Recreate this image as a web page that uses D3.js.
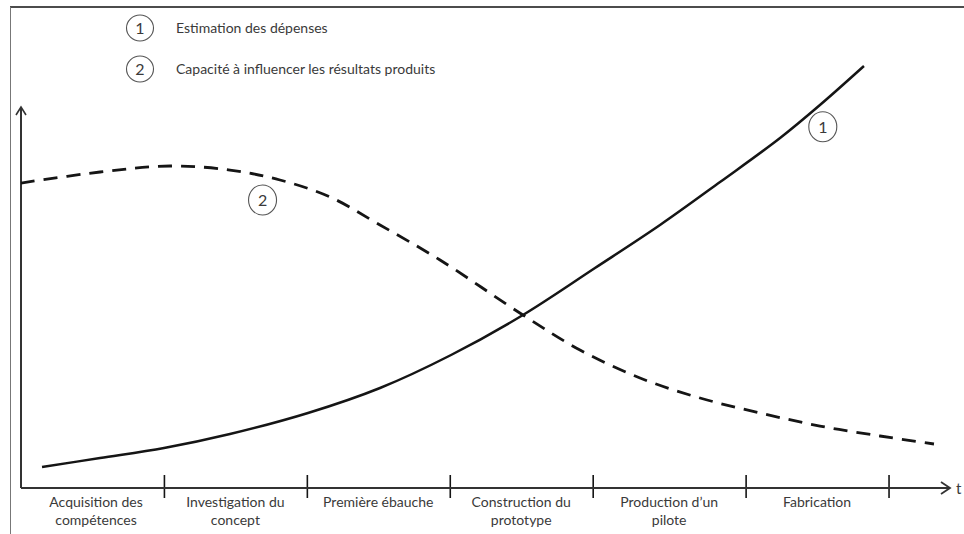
<!DOCTYPE html>
<html>
<head>
<meta charset="utf-8">
<script src="https://cdn.jsdelivr.net/npm/d3@7/dist/d3.min.js"></script>
<style>
  html, body { margin: 0; padding: 0; background: #fff; }
  svg { display: block; }
  text { font-family: Lato, "Open Sans", sans-serif; fill: #3a3a3a; }
</style>
</head>
<body>
<svg id="chart" width="964" height="534"></svg>
<script>
// ---- Data (x in phase units, y in relative units 0..100 of the vertical axis) ----
const phases = [
  ["Acquisition des", "compétences"],
  ["Investigation du", "concept"],
  ["Première ébauche"],
  ["Construction du", "prototype"],
  ["Production d\u2019un", "pilote"],
  ["Fabrication"]
];
const phaseBounds = [0.05, 1, 2, 3, 4, 5.07, 6.07];   // phase limits
const tickValues = [1, 2, 3, 4, 5.07, 6.07];

const series1Name = "Estimation des dépenses";
const series1X = [0.147, 0.553, 1.001, 1.462, 2.008, 2.512, 3.009, 3.512, 4.016, 4.471, 4.891, 5.311, 5.590, 5.898];
const series1Y = [5.51, 7.87, 10.50, 14.17, 19.69, 26.25, 34.91, 45.41, 57.74, 69.03, 80.31, 91.86, 100.52, 110.76];

const series2Name = "Capacité à influencer les résultats produits";
const series2X = [0, 0.553, 1.043, 1.462, 1.812, 2.162, 2.512, 2.932, 3.512, 3.911, 4.331, 4.751, 5.171, 5.590, 6.010, 6.388];
const series2Y = [80.05, 82.94, 84.51, 83.46, 80.84, 76.38, 69.03, 59.84, 45.41, 36.22, 28.87, 23.62, 19.69, 16.27, 13.65, 11.55];

const markerLabels = ["1", "2"];
const markerX = [5.61, 1.69];
const markerY = [94.8, 75.6];

// ---- Layout ----
const svg = d3.select("#chart");
const x = d3.scaleLinear().domain([0, 6.5]).range([21, 950]);
const y = d3.scaleLinear().domain([0, 100]).range([488, 107]);
const ink = "#151515";

// frame lines
svg.append("line").attr("x1", 10).attr("x2", 964).attr("y1", 7).attr("y2", 7)
  .attr("stroke", "#111").attr("stroke-width", 1.5);
svg.append("line").attr("x1", 10.5).attr("x2", 10.5).attr("y1", 7).attr("y2", 534)
  .attr("stroke", "#777").attr("stroke-width", 1);

// legend
const legend = svg.append("g");
[series1Name, series2Name].forEach((name, i) => {
  const cy = 28 + i * 41;
  legend.append("ellipse").attr("cx", 140).attr("cy", cy).attr("rx", 13.5).attr("ry", 13)
    .attr("fill", "none").attr("stroke", "#555").attr("stroke-width", 1.1);
  legend.append("text").attr("x", 140).attr("y", cy + 5.5).attr("text-anchor", "middle")
    .attr("font-size", 16).text(markerLabels[i]);
  legend.append("text").attr("x", 176).attr("y", cy + 5).attr("font-size", 14).text(name);
});

// x axis via d3.axisBottom (ticks straddle the line)
const xAxis = d3.axisBottom(x).tickValues(tickValues).tickFormat("").tickSize(10).tickSizeOuter(0);
const gx = svg.append("g").attr("transform", "translate(0,488)").call(xAxis);
gx.select(".domain").remove();
gx.selectAll(".tick line").attr("y1", -13).attr("y2", 10).attr("stroke", ink).attr("stroke-width", 1.6);

// x axis line with open arrow
svg.append("line").attr("x1", x(0)).attr("x2", x(6.5)).attr("y1", 488).attr("y2", 488)
  .attr("stroke", "#333").attr("stroke-width", 2);
svg.append("path").attr("d", `M${x(6.5) - 9},${482} L${x(6.5)},488 L${x(6.5) - 9},${494}`)
  .attr("fill", "none").attr("stroke", "#333").attr("stroke-width", 1.8);
svg.append("text").attr("x", 956).attr("y", 494).attr("font-size", 15).text("t");

// y axis line with open arrow
svg.append("line").attr("x1", x(0)).attr("x2", x(0)).attr("y1", y(0)).attr("y2", y(100))
  .attr("stroke", "#333").attr("stroke-width", 2);
svg.append("path").attr("d", `M${x(0) - 5},${y(100) + 8} L${x(0)},${y(100)} L${x(0) + 5},${y(100) + 8}`)
  .attr("fill", "none").attr("stroke", "#333").attr("stroke-width", 1.6);

// phase labels
phases.forEach((lines, i) => {
  const cx = (x(phaseBounds[i]) + x(phaseBounds[i + 1])) / 2;
  lines.forEach((ln, j) => {
    svg.append("text").attr("x", cx).attr("y", 507 + j * 18).attr("text-anchor", "middle")
      .attr("font-size", 14).text(ln);
  });
});

// curves
const line = d3.line().x(d => x(d[0])).y(d => y(d[1])).curve(d3.curveCatmullRom.alpha(0.5));
const s1 = series1X.map((v, i) => [v, series1Y[i]]);
const s2 = series2X.map((v, i) => [v, series2Y[i]]);
svg.append("path").attr("d", line(s1)).attr("fill", "none").attr("stroke", ink).attr("stroke-width", 2.5);
svg.append("path").attr("d", line(s2)).attr("fill", "none").attr("stroke", ink).attr("stroke-width", 2.8)
  .attr("stroke-dasharray", "14,9");

// curve markers
markerLabels.forEach((lab, i) => {
  const cx = x(markerX[i]), cy = y(markerY[i]);
  svg.append("ellipse").attr("cx", cx).attr("cy", cy).attr("rx", 14).attr("ry", 15)
    .attr("fill", "#fff").attr("stroke", "#555").attr("stroke-width", 1.1);
  svg.append("text").attr("x", cx).attr("y", cy + 6).attr("text-anchor", "middle")
    .attr("font-size", 16).text(lab);
});
</script>
</body>
</html>
